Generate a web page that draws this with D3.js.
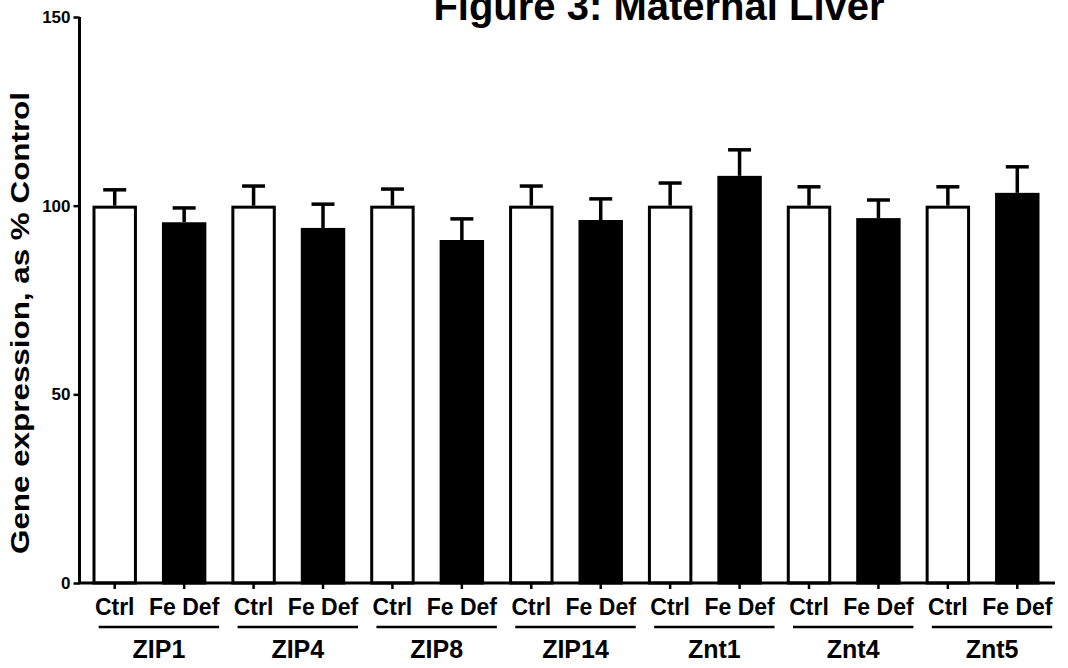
<!DOCTYPE html>
<html>
<head>
<meta charset="utf-8">
<script src="https://cdn.jsdelivr.net/npm/d3@7"></script>
<style>
  body { margin: 0; background: #fff; }
  svg text { font-family: "Liberation Sans", Arial, sans-serif; font-weight: bold; fill: #000; }
</style>
</head>
<body>
<div id="chart"></div>
<script>
// Data
const genes = ["ZIP1", "ZIP4", "ZIP8", "ZIP14", "Znt1", "Znt4", "Znt5"];
const groups = ["Ctrl", "Fe Def"];
const ctrlMean = [100, 100, 100, 100, 100, 100, 100];
const ctrlSem = [4.2, 5.2, 4.4, 5.2, 6.0, 5.0, 5.0];
const feMean = [95.6, 94.1, 90.9, 96.2, 107.9, 96.7, 103.4];
const feSem = [3.8, 6.3, 5.6, 5.6, 6.9, 4.8, 6.9];
const yTicks = [0, 50, 100, 150];

const W = 1068, H = 668;

// flatten into one row per bar
const bars = [];
genes.forEach((g, i) => {
  bars.push({ key: g + "|" + groups[0], gene: g, group: groups[0], mean: ctrlMean[i], sem: ctrlSem[i] });
  bars.push({ key: g + "|" + groups[1], gene: g, group: groups[1], mean: feMean[i], sem: feSem[i] });
});

const svg = d3
  .select("#chart")
  .append("svg")
  .attr("width", W)
  .attr("height", H);

const y = d3.scaleLinear().domain([0, 150]).range([583, 17]);
const x = d3
  .scaleBand()
  .domain(bars.map((d) => d.key))
  .range([80, 1052])
  .paddingInner(0.36)
  .paddingOuter(0.18);
const bw = x.bandwidth();

// Title (partly cut off at the top, as in the figure)
svg
  .append("text")
  .attr("x", 659)
  .attr("y", 20)
  .attr("text-anchor", "middle")
  .style("font-size", "40px")
  .text("Figure 3: Maternal Liver");

// Bars
svg
  .selectAll("rect.bar")
  .data(bars)
  .enter()
  .append("rect")
  .attr("class", "bar")
  .attr("x", (d) => x(d.key) + 1.5)
  .attr("width", bw - 3)
  .attr("y", (d) => y(d.mean) + 1.5)
  .attr("height", (d) => y(0) - y(d.mean) - 1.5)
  .attr("fill", (d) => (d.group === "Ctrl" ? "#fff" : "#000"))
  .attr("stroke", "#000")
  .attr("stroke-width", 3);

// Error bars (upper half only)
const err = svg.append("g").attr("stroke", "#000").attr("stroke-width", 3.5);
err
  .selectAll("line.stem")
  .data(bars)
  .enter()
  .append("line")
  .attr("x1", (d) => x(d.key) + bw / 2)
  .attr("x2", (d) => x(d.key) + bw / 2)
  .attr("y1", (d) => y(d.mean))
  .attr("y2", (d) => y(d.mean + d.sem));
err
  .selectAll("line.cap")
  .data(bars)
  .enter()
  .append("line")
  .attr("x1", (d) => x(d.key) + bw / 2 - 11.5)
  .attr("x2", (d) => x(d.key) + bw / 2 + 11.5)
  .attr("y1", (d) => y(d.mean + d.sem))
  .attr("y2", (d) => y(d.mean + d.sem));

// Y axis
const yAxis = svg
  .append("g")
  .attr("transform", "translate(79.5,0)")
  .call(d3.axisLeft(y).tickValues(yTicks).tickSize(6).tickPadding(3));
yAxis.select(".domain").attr("stroke-width", 3).attr("d", `M-0,${y(150)}V${y(0)}`);
yAxis.selectAll(".tick line").attr("stroke-width", 2.5);
yAxis
  .selectAll(".tick text")
  .style("font-size", "17px")
  .style("font-family", "Liberation Sans, Arial, sans-serif")
  .style("font-weight", "bold");

// X axis
const xAxis = svg
  .append("g")
  .attr("transform", `translate(0,${y(0)})`)
  .call(d3.axisBottom(x).tickSize(6).tickFormat((k) => k.split("|")[1]));
xAxis.select(".domain").attr("stroke-width", 3).attr("d", "M78,0H1055");
xAxis.selectAll(".tick line").attr("stroke-width", 2.5);
xAxis
  .selectAll(".tick text")
  .attr("y", 32)
  .attr("dy", null)
  .style("font-size", "23px")
  .style("font-family", "Liberation Sans, Arial, sans-serif")
  .style("font-weight", "bold");

// Gene group underlines and labels
const grp = svg
  .selectAll("g.gene")
  .data(genes)
  .enter()
  .append("g")
  .attr("class", "gene");
grp
  .append("line")
  .attr("x1", (g) => x(g + "|Ctrl") + bw / 2 - 16)
  .attr("x2", (g) => x(g + "|Fe Def") + bw / 2 + 35)
  .attr("y1", 627)
  .attr("y2", 627)
  .attr("stroke", "#000")
  .attr("stroke-width", 2.5);
grp
  .append("text")
  .attr("x", (g) => (x(g + "|Ctrl") + bw / 2 - 16 + x(g + "|Fe Def") + bw / 2 + 35) / 2)
  .attr("y", 658)
  .attr("text-anchor", "middle")
  .style("font-size", "25px")
  .text((g) => g);

// Y axis title
svg
  .append("text")
  .attr("transform", "translate(29,323) rotate(-90)")
  .attr("text-anchor", "middle")
  .style("font-size", "25px")
  .attr("textLength", 462)
  .attr("lengthAdjust", "spacingAndGlyphs")
  .text("Gene expression, as % Control");
</script>
</body>
</html>
